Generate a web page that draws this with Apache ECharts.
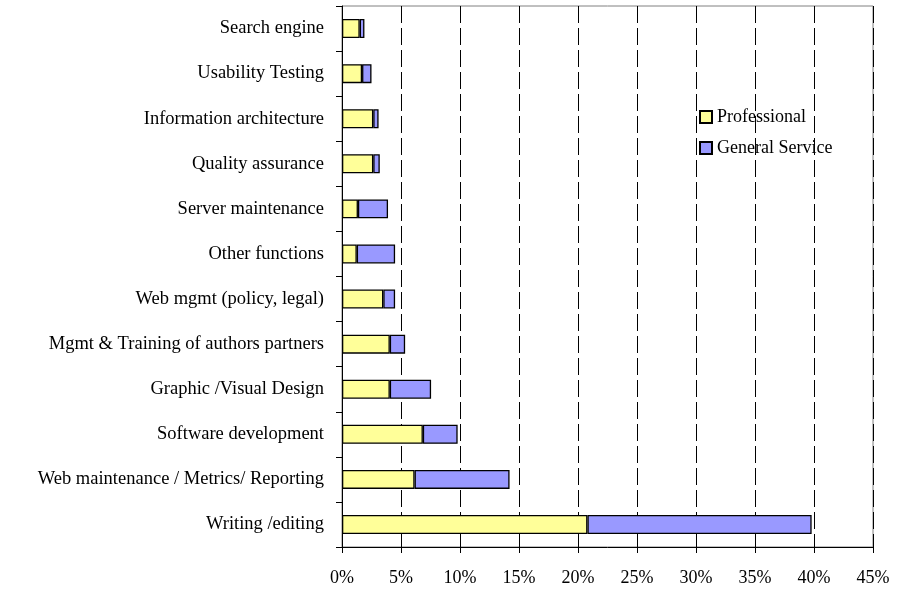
<!DOCTYPE html>
<html>
<head>
<meta charset="utf-8">
<script src="https://cdn.jsdelivr.net/npm/echarts@6/dist/echarts.min.js"></script>
<style>
  html, body { margin: 0; padding: 0; background: #fff; }
  #chart { width: 899px; height: 593px; }
</style>
</head>
<body>
<div id="chart"></div>
<script>
// listed top to bottom as in the picture
const categories = [
  'Search engine',
  'Usability Testing',
  'Information architecture',
  'Quality assurance',
  'Server maintenance',
  'Other functions',
  'Web mgmt (policy, legal)',
  'Mgmt & Training of authors partners',
  'Graphic /Visual Design',
  'Software development',
  'Web maintenance / Metrics/ Reporting',
  'Writing /editing'
]
const professional = [1.5, 1.7, 2.65, 2.65, 1.35, 1.25, 3.5, 4.05, 4.05, 6.85, 6.15, 20.8]
const generalService = [0.4, 0.8, 0.45, 0.55, 2.55, 3.25, 1.0, 1.3, 3.5, 2.95, 8.05, 19.0]
const xTicks = [0, 5, 10, 15, 20, 25, 30, 35, 40, 45]

const font = "'Liberation Serif', 'DejaVu Serif', serif"
const chart = echarts.init(document.getElementById('chart'))

chart.setOption({
  animation: false,
  textStyle: { fontFamily: font, color: '#000' },
  grid: {
    left: 342, right: 26, top: 6, bottom: 46,
    show: true, borderColor: '#808080', borderWidth: 1, backgroundColor: 'transparent'
  },
  legend: {
    orient: 'vertical',
    left: 694,
    top: 103,
    itemWidth: 12,
    itemHeight: 12,
    itemGap: 13,
    icon: 'rect',
    textStyle: { fontFamily: font, fontSize: 18, color: '#000' },
    data: ['Professional', 'General Service']
  },
  xAxis: {
    type: 'value',
    min: xTicks[0],
    max: xTicks[xTicks.length - 1],
    interval: 5,
    axisLine: { show: true, lineStyle: { color: '#000', width: 1 } },
    axisTick: { show: true, length: 6, lineStyle: { color: '#000' } },
    axisLabel: {
      margin: 22,
      fontFamily: font, fontSize: 18, color: '#000',
      formatter: v => v + '%'
    },
    splitLine: {
      show: true,
      lineStyle: { color: '#000', type: [17, 5], width: 1 }
    }
  },
  yAxis: {
    type: 'category',
    inverse: true,
    data: categories,
    axisLine: { show: true, lineStyle: { color: '#000', width: 1 } },
    axisTick: { show: true, length: 6, lineStyle: { color: '#000' } },
    axisLabel: { margin: 18, fontFamily: font, fontSize: 18.5, color: '#000' }
  },
  series: [
    {
      name: 'Professional',
      type: 'bar',
      stack: 'all',
      data: professional,
      barWidth: 19,
      itemStyle: { color: '#FFFF99', borderColor: '#000', borderWidth: 1.3 }
    },
    {
      name: 'General Service',
      type: 'bar',
      stack: 'all',
      data: generalService,
      barWidth: 19,
      itemStyle: { color: '#9999FF', borderColor: '#000', borderWidth: 1.3 }
    }
  ]
})
</script>
</body>
</html>
